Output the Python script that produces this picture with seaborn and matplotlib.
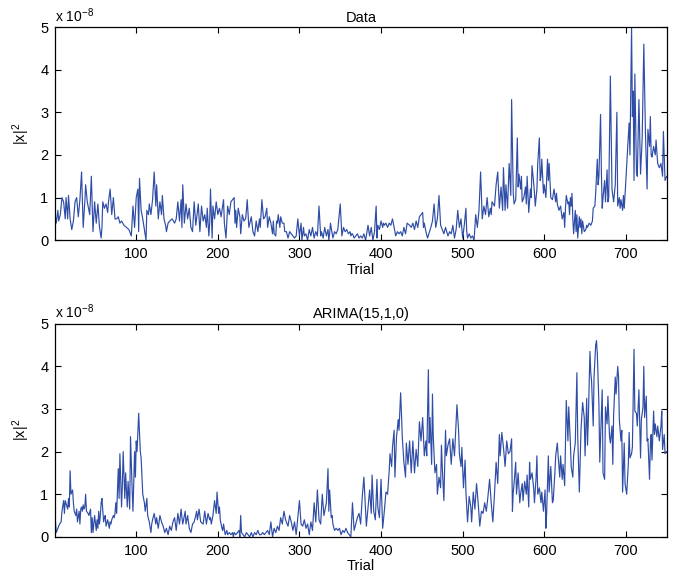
import matplotlib
matplotlib.use("Agg")
import matplotlib.pyplot as plt
import seaborn as sns
import pandas as pd

# ---------------- data (values in units of 1e-8) ----------------
data_trial = [1, 2, 4, 5, 7, 9, 11, 13, 14, 16, 17, 19, 21, 23, 25, 27, 29, 31, 33, 35, 37, 38, 40, 43, 45, 47, 49, 51, 53, 55, 57, 58, 59, 61, 63, 65, 66, 68, 70, 72, 74, 76, 78, 80, 82, 85, 88, 91, 94, 96, 98, 100, 102, 103, 104, 106, 108, 112, 113, 115, 116, 118, 120, 122, 124, 125, 127, 129, 131, 132, 134, 136, 137, 139, 141, 144, 147, 149, 151, 153, 155, 156, 157, 159, 161, 163, 165, 167, 169, 171, 173, 176, 178, 180, 182, 184, 186, 187, 189, 190,
              191, 193, 194, 196, 198, 200, 202, 204, 207, 208, 210, 212, 214, 216, 220, 221, 222, 223, 225, 227, 228, 230, 232, 234, 235, 236, 238, 241, 243, 245, 247, 249, 251, 252, 254, 256, 258, 260, 261, 263, 265, 267, 268, 269, 271, 272, 273, 274, 276, 277, 279, 281, 282, 284, 286, 288, 290, 292, 294, 296, 298, 300, 302, 303, 305, 306, 308, 310, 312, 314, 316, 318, 320, 322, 324, 326, 327, 329, 331, 333, 335, 336, 337, 338, 341, 343, 345, 347, 350, 352, 354, 356, 358, 360, 362, 363, 364, 365, 367, 369, 371, 373,
              375, 377, 379, 381, 382, 384, 386, 388, 390, 392, 394, 395, 396, 398, 400, 402, 403, 404, 406, 408, 410, 412, 414, 416, 418, 420, 422, 424, 426, 428, 430, 432, 435, 437, 439, 441, 443, 445, 447, 451, 452, 453, 455, 457, 461, 463, 465, 467, 469, 471, 473, 475, 477, 479, 482, 484, 486, 488, 490, 492, 494, 496, 498, 500, 502, 504, 505, 506, 508, 510, 512, 514, 516, 518, 520, 522, 524, 526, 528, 530, 532, 534, 535, 536, 539, 541, 543, 545, 547, 549, 550, 552, 553, 555, 557, 559, 560, 562,
              563, 565, 567, 568, 569, 571, 572, 573, 575, 577, 578, 579, 581, 583, 584, 585, 587, 588, 589, 591, 592, 594, 595, 596, 597, 599, 600, 602, 604, 605, 606, 608, 610, 612, 614, 615, 616, 618, 620, 622, 624, 625, 626, 627, 629, 630, 631, 632, 633, 634, 635, 636, 638, 639, 640, 641, 643, 644, 645, 646, 647, 649, 651, 652, 653, 655, 657, 659, 660, 662, 663, 665, 666, 667, 669, 670, 671, 672, 674, 675, 677, 678, 679, 681, 683, 685, 687, 689, 690, 692, 693, 694, 696, 697, 698, 700, 702, 704, 705, 706, 707, 708, 709, 710, 711, 713, 714, 716, 718, 720, 722, 724, 726, 727, 729, 730, 731, 732, 734, 736, 737, 739, 741, 743, 745, 746, 748, 750]
data_value = [0.55, 0.4, 0.7, 0.45, 0.6, 1.0, 0.9, 0.5, 1.0, 0.5, 1.05, 0.5, 0.25, 0.45, 0.9, 1.0, 0.55, 0.95, 1.6, 0.3, 0.9, 1.3, 0.9, 0.6, 1.5, 0.2, 0.9, 0.4, 0.85, 0.3, 0.05, 0.3, 0.9, 0.75, 0.85, 0.65, 0.9, 1.2, 0.6, 1.0, 0.5, 0.5, 0.55, 0.4, 0.45, 0.35, 0.3, 0.25, 0.1, 0.8, 0.3, 1.0, 1.2, 0.2, 1.45, 0.7, 0.5, 0.0, 0.7, 0.6, 0.85, 0.6, 0.95, 1.6, 0.8, 1.3, 0.5, 0.9, 0.6, 1.05, 0.5, 0.35, 0.2, 0.4, 0.45, 0.5, 0.4, 0.5, 0.9, 0.45, 0.95, 0.3, 1.3, 0.4, 0.85, 0.5, 0.75, 0.3, 0.2, 0.9, 0.35, 0.85, 0.2, 0.8, 0.45, 0.6, 0.3, 0.75, 0.1, 0.4,
              1.2, 0.05, 0.8, 0.5, 0.9, 0.6, 0.75, 0.55, 0.95, 0.4, 0.05, 0.8, 0.6, 0.9, 1.0, 0.4, 0.7, 0.3, 0.75, 0.55, 0.15, 0.6, 0.45, 0.5, 0.7, 0.95, 0.3, 0.55, 0.2, 0.1, 0.45, 0.2, 0.5, 0.3, 0.95, 0.5, 0.55, 0.75, 0.3, 0.55, 0.4, 0.15, 0.45, 0.15, 0.1, 0.45, 0.4, 0.6, 0.3, 0.55, 0.4, 0.4, 0.2, 0.2, 0.05, 0.2, 0.15, 0.1, 0.05, 0.1, 0.5, 0.1, 0.4, 0.0, 0.3, 0.1, 0.15, 0.0, 0.25, 0.1, 0.3, 0.05, 0.2, 0.1, 0.8, 0.1, 0.2, 0.05, 0.3, 0.1, 0.25, 0.0, 0.15, 0.4, 0.05, 0.2, 0.15, 0.25, 0.85, 0.1, 0.3, 0.2, 0.25, 0.15, 0.2, 0.1, 0.15, 0.15, 0.05, 0.1, 0.15, 0.05,
              0.1, 0.05, 0.15, 0.0, 0.1, 0.35, 0.1, 0.3, 0.0, 0.2, 0.8, 0.05, 0.35, 0.25, 0.45, 0.3, 0.4, 0.35, 0.4, 0.3, 0.4, 0.35, 0.5, 0.3, 0.1, 0.2, 0.15, 0.2, 0.1, 0.3, 0.15, 0.4, 0.35, 0.3, 0.4, 0.25, 0.45, 0.3, 0.55, 0.65, 0.3, 0.4, 0.2, 0.05, 0.3, 0.45, 0.85, 0.3, 0.5, 1.05, 0.35, 0.25, 0.15, 0.3, 0.1, 0.2, 0.15, 0.35, 0.05, 0.25, 0.7, 0.3, 0.5, 0.05, 0.35, 0.75, 0.2, 0.05, 0.15, 0.05, 0.1, 0.0, 0.6, 0.3, 0.7, 1.6, 0.5, 0.8, 0.6, 1.0, 0.55, 0.75, 0.6, 0.9, 0.8, 1.3, 1.6, 0.75, 1.25, 0.7, 1.7, 0.7, 1.3, 0.75, 1.8, 1.05, 3.3, 1.1,
              0.85, 0.95, 2.4, 1.25, 1.55, 1.2, 1.5, 0.9, 1.0, 1.25, 0.85, 1.5, 0.65, 1.2, 1.0, 1.75, 1.35, 1.1, 0.8, 1.2, 1.8, 2.4, 1.4, 1.5, 1.9, 1.1, 1.3, 1.0, 1.9, 1.4, 1.8, 1.0, 0.95, 1.2, 0.9, 1.1, 0.85, 0.7, 0.8, 0.5, 0.65, 0.3, 0.75, 1.05, 0.85, 0.9, 0.6, 1.0, 0.8, 1.1, 0.5, 0.15, 0.7, 0.2, 0.6, 0.05, 0.55, 0.3, 0.5, 0.15, 0.45, 0.2, 0.25, 0.35, 0.3, 0.4, 0.35, 0.45, 0.75, 0.8, 1.1, 1.9, 1.3, 1.5, 2.95, 1.6, 0.75, 1.0, 1.4, 0.9, 1.65, 0.9, 1.0, 3.85, 1.2, 0.9, 1.3, 3.0, 0.8, 1.0, 0.75, 0.95, 0.7, 1.05, 0.75, 1.4, 2.1, 2.75, 2.0, 3.5, 5.0, 2.9, 3.5, 1.4, 3.9, 1.6, 1.5, 3.3, 1.55, 2.4, 4.6, 2.5, 1.2, 2.6, 2.2, 2.9, 2.0, 1.95, 2.2, 2.0, 2.35, 1.8, 1.7, 1.8, 1.5, 2.55, 1.4, 1.5]

arima_trial = [1, 2, 4, 6, 8, 9, 11, 12, 13, 16, 17, 18, 19, 20, 22, 23, 24, 26, 27, 28, 30, 31, 32, 33, 34, 35, 36, 37, 38, 39, 41, 42, 44, 45, 46, 47, 49, 51, 52, 53, 54, 55, 56, 57, 58, 60, 61, 62, 63, 65, 67, 68, 69, 70, 72, 73, 74, 75, 76, 78, 79, 80, 82, 83, 84, 86, 87, 89, 90, 92, 93, 95, 96, 98, 99, 100, 101, 103, 105, 106, 108, 110, 111, 113, 114, 116, 118, 119, 120, 122, 124, 125, 127, 129, 131, 133, 135, 137, 139, 141, 143, 145, 147, 149, 151, 153, 155, 156, 157, 159, 160, 161, 163, 165, 167, 169, 171, 173, 174, 175, 177, 179, 182, 184, 186, 188, 190,
               191, 192, 194, 196, 198, 199, 201, 202, 203, 205, 206, 207, 209, 211, 212, 214, 216, 218, 219, 220, 222, 224, 226, 227, 228, 229, 231, 233, 235, 237, 239, 241, 243, 245, 247, 249, 251, 253, 255, 257, 259, 261, 263, 265, 267, 269, 271, 273, 275, 277, 279, 281, 283, 286, 288, 290, 292, 294, 296, 300, 302, 304, 306, 308, 310, 312, 314, 316, 318, 320, 322, 324, 326, 328, 330, 333, 335, 336, 337, 339, 340, 341, 343, 345, 347, 349, 351, 353, 355, 357, 359, 363, 365, 367, 369, 371,
               373, 375, 377, 379, 382, 386, 388, 389, 391, 393, 395, 396, 398, 400, 402, 404, 406, 408, 410, 411, 413, 414, 416, 417, 419, 421, 422, 424, 425, 426, 428, 430, 431, 433, 435, 437, 439, 441, 443, 445, 447, 449, 451, 453, 455, 456, 458, 459, 460, 462, 463, 464, 466, 468, 469, 471, 473, 474, 475, 477, 479, 480, 482, 484, 486, 488, 490, 491, 493, 495, 496, 498, 499, 501, 503, 504, 506, 508, 510, 511, 513, 515, 517, 519, 521, 523, 525, 527, 529, 531, 533, 535, 537, 539, 541, 543, 545, 546, 548, 550, 552, 554, 556, 558, 560, 561, 562,
               563, 565, 566, 568, 570, 571, 573, 574, 576, 578, 579, 581, 582, 583, 585, 587, 588, 590, 591, 592, 594, 596, 597, 599, 601, 602, 603, 605, 606, 608, 610, 611, 613, 614, 616, 617, 619, 620, 622, 623, 625, 626, 627, 629, 630, 632, 633, 635, 636, 638, 640, 641, 643, 644, 645, 647, 649, 650, 652, 653, 654, 656, 657, 658, 660, 661, 663, 664, 665, 667, 668, 670, 671, 672, 674, 675, 677, 678, 680, 681, 683, 684, 685, 687, 688, 690, 691, 692, 694, 695, 696, 698, 699, 701, 703, 704, 705, 707, 708, 710, 711, 713, 714, 716, 718, 719, 721, 722, 723, 725, 726, 727, 729, 730, 731, 732, 734, 735, 736, 738, 739, 741, 743, 744, 745, 747, 748, 750]
arima_value = [0.35, 0.1, 0.2, 0.3, 0.35, 0.6, 0.85, 0.55, 0.85, 0.65, 0.9, 0.7, 1.55, 1.0, 1.1, 0.8, 0.6, 0.5, 0.65, 0.35, 0.6, 0.3, 0.65, 0.7, 0.6, 0.75, 0.65, 0.7, 1.0, 0.6, 0.55, 0.5, 0.65, 0.1, 0.45, 0.1, 0.5, 0.15, 0.4, 0.2, 0.6, 0.3, 0.5, 0.8, 0.9, 0.35, 0.45, 0.5, 0.25, 0.4, 0.2, 0.35, 0.3, 0.4, 0.5, 0.45, 0.55, 0.8, 0.55, 1.6, 0.9, 1.95, 0.7, 1.2, 2.0, 0.9, 1.5, 0.7, 1.3, 0.65, 2.35, 1.1, 0.6, 2.0, 1.4, 2.25, 2.0, 2.9, 2.0, 1.85, 1.0, 0.8, 0.6, 0.9, 0.5, 0.35, 0.1, 0.3, 0.4, 0.55, 0.3, 0.45, 0.2, 0.5, 0.35, 0.25, 0.1, 0.2, 0.05, 0.25, 0.15, 0.35, 0.45, 0.15, 0.55, 0.3, 0.65, 0.45, 0.3, 0.5, 0.6, 0.3, 0.5, 0.2, 0.1, 0.3, 0.35, 0.5, 0.6, 0.4, 0.65, 0.35, 0.3, 0.6, 0.3, 0.55, 0.4,
               0.45, 0.3, 0.5, 0.85, 0.55, 1.05, 0.55, 0.7, 0.4, 0.2, 0.15, 0.3, 0.05, 0.15, 0.05, 0.1, 0.05, 0.1, 0.0, 0.1, 0.05, 0.1, 0.15, 0.0, 0.5, 0.1, 0.05, 0.0, 0.1, 0.05, 0.0, 0.1, 0.0, 0.1, 0.05, 0.15, 0.05, 0.05, 0.1, 0.05, 0.1, 0.15, 0.05, 0.35, 0.0, 0.2, 0.1, 0.25, 0.15, 0.45, 0.3, 0.6, 0.4, 0.25, 0.5, 0.35, 0.15, 0.35, 0.05, 0.85, 0.3, 0.25, 0.4, 0.2, 0.3, 0.05, 0.35, 0.15, 0.8, 0.35, 1.1, 0.4, 0.3, 1.0, 0.5, 0.8, 1.6, 0.6, 1.1, 0.45, 0.5, 0.3, 0.15, 0.2, 0.15, 0.2, 0.05, 0.15, 0.1, 0.2, 0.1, 0.0, 0.8, 0.15, 0.3, 0.45,
               0.55, 0.3, 0.95, 1.4, 0.25, 1.1, 0.55, 1.45, 0.6, 0.4, 1.35, 0.7, 0.45, 1.35, 0.2, 0.6, 1.05, 1.0, 1.55, 1.95, 1.65, 2.1, 2.5, 1.4, 2.35, 2.75, 2.5, 3.38, 2.9, 2.35, 1.75, 1.4, 2.2, 1.7, 2.25, 1.5, 2.25, 1.5, 2.05, 1.65, 2.7, 2.25, 2.8, 1.9, 2.25, 1.9, 3.92, 2.2, 2.8, 1.7, 3.35, 2.35, 1.5, 1.7, 1.0, 1.4, 1.15, 2.15, 1.65, 0.85, 2.5, 1.9, 2.15, 2.3, 1.7, 2.3, 1.9, 2.3, 3.1, 2.5, 1.95, 1.65, 2.1, 1.15, 1.8, 1.05, 0.35, 0.95, 0.7, 0.35, 1.05, 0.65, 1.25, 0.8, 0.25, 0.6, 0.55, 0.8, 0.6, 0.95, 1.35, 0.8, 0.35, 1.0, 1.75, 1.25, 2.4, 1.9, 2.45, 2.1, 1.65, 2.25, 1.95, 2.0, 2.3, 0.6, 1.05,
               1.25, 1.75, 1.0, 1.5, 0.8, 1.0, 1.25, 0.85, 1.3, 1.0, 1.45, 0.7, 1.75, 1.35, 1.5, 1.15, 0.8, 1.4, 1.9, 1.0, 1.15, 0.8, 1.05, 0.6, 1.1, 0.2, 0.6, 1.9, 1.05, 1.65, 0.8, 0.85, 1.5, 1.9, 2.2, 1.9, 1.4, 1.9, 1.35, 1.7, 1.2, 2.2, 3.2, 2.25, 3.05, 2.2, 1.65, 1.4, 1.9, 2.2, 3.85, 2.35, 1.05, 1.75, 2.5, 3.15, 2.8, 1.9, 3.25, 2.15, 2.75, 4.35, 3.85, 3.65, 2.6, 3.75, 4.5, 4.6, 4.3, 3.1, 1.75, 2.9, 3.45, 1.5, 1.35, 3.05, 2.65, 3.3, 2.35, 2.2, 2.6, 1.7, 2.85, 3.75, 3.35, 4.0, 3.75, 2.75, 2.25, 2.5, 1.05, 2.2, 1.25, 1.0, 1.7, 2.45, 1.85, 1.95, 2.1, 4.4, 2.95, 2.9, 2.6, 3.45, 1.85, 2.75, 3.05, 4.0, 2.8, 3.3, 2.25, 2.3, 1.35, 2.15, 2.4, 1.8, 2.95, 2.4, 2.65, 2.35, 2.6, 2.25, 2.6, 2.95, 2.05, 2.4, 1.95, 2.0]

panel_titles = ["Data", "ARIMA(15,1,0)"]
x_ticks = [100, 200, 300, 400, 500, 600, 700]
y_ticks = [0, 1, 2, 3, 4, 5]

# ---------------- figure ----------------
sns.set_style("ticks")
plt.rcParams["font.family"] = ["Liberation Sans", "DejaVu Sans"]
plt.rcParams["mathtext.fontset"] = "custom"
plt.rcParams["mathtext.rm"] = "Liberation Sans"
plt.rcParams["mathtext.it"] = "Liberation Sans"
plt.rcParams["text.color"] = "black"
plt.rcParams["axes.labelcolor"] = "black"
plt.rcParams["xtick.color"] = "black"
plt.rcParams["ytick.color"] = "black"

line_color = "#2f4da6"
fig = plt.figure(figsize=(6.93, 5.76), dpi=100)
axes = [fig.add_axes([0.080, 0.583, 0.882, 0.370]),
        fig.add_axes([0.080, 0.068, 0.882, 0.370])]

series = [(data_trial, data_value), (arima_trial, arima_value)]
for ax, (xs, ys), title in zip(axes, series, panel_titles):
    df = pd.DataFrame({"Trial": xs, "val": ys})
    sns.lineplot(data=df, x="Trial", y="val", ax=ax, color=line_color,
                 linewidth=0.85, estimator=None, errorbar=None)
    ax.set_xlim(1, 750)
    ax.set_ylim(0, 5)
    ax.set_xticks(x_ticks)
    ax.set_yticks(y_ticks)
    ax.tick_params(direction="in", top=True, right=True, labelsize=10.5,
                   length=4, width=0.8, colors="black", pad=5)
    for s in ax.spines.values():
        s.set_visible(True)
        s.set_linewidth(0.9)
        s.set_color("black")
    ax.set_title(title, fontsize=10.5, pad=4, color="black")
    ax.set_xlabel("Trial", fontsize=10.5, labelpad=1, color="black")
    ax.set_ylabel("|x|$^2$", fontsize=10.5, labelpad=6, color="black")
    ax.text(0.0, 1.012, r"x 10$^{-8}$", transform=ax.transAxes,
            fontsize=10, ha="left", va="bottom", color="black")

fig.savefig("out.png", dpi=100)
